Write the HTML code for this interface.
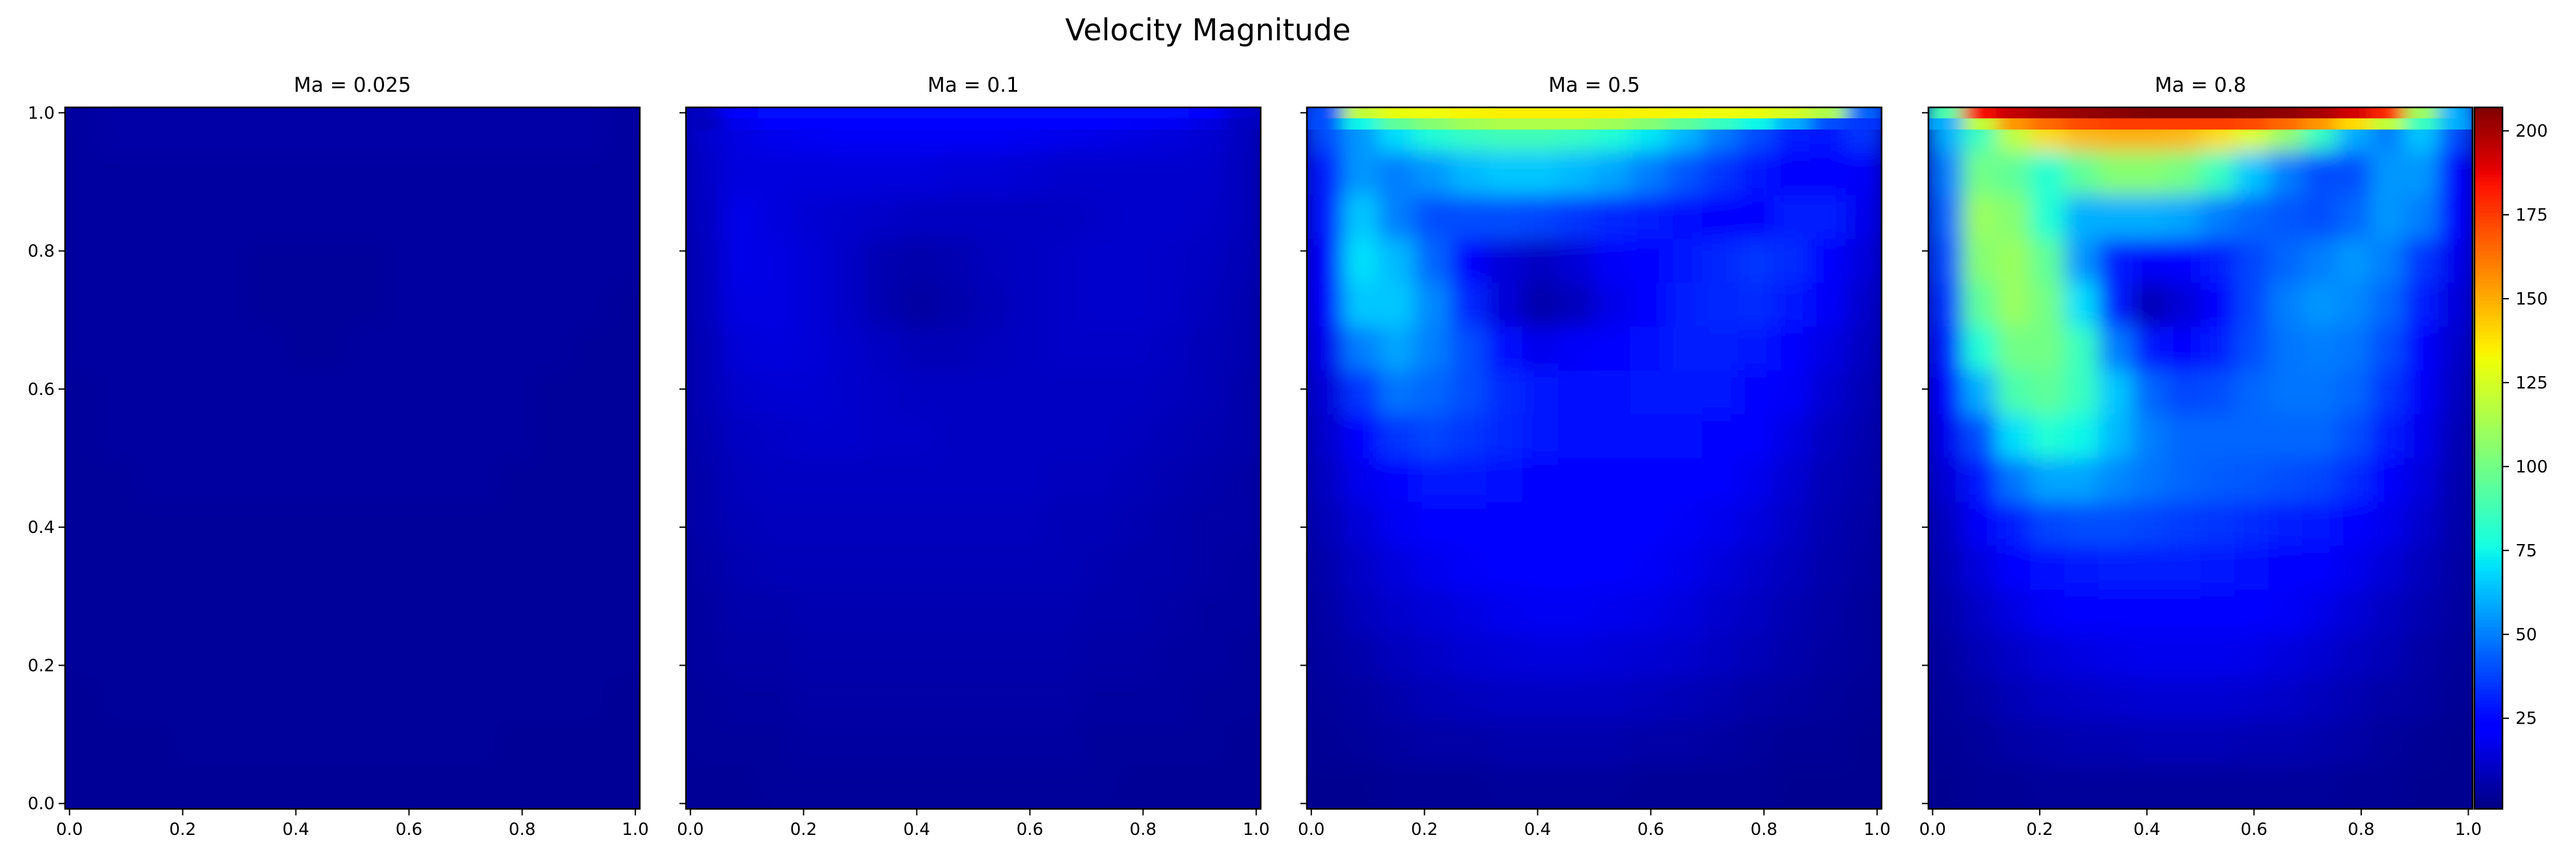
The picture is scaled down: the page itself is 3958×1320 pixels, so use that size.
<!DOCTYPE html>
<html><head><meta charset="utf-8"><style>
html,body{margin:0;padding:0;background:#fff;}
svg{display:block;font-family:"DejaVu Sans","Liberation Sans",sans-serif;}
</style></head><body>
<svg id="fig" width="3958" height="1320" viewBox="0 0 3958 1320" xmlns="http://www.w3.org/2000/svg">
<defs id="defs"></defs>
<rect width="3958" height="1320" fill="#fff"/>
<text x="1856" y="62" font-size="46" text-anchor="middle">Velocity Magnitude</text>
</svg>
<script>
const panelTitles = ["Ma = 0.025","Ma = 0.1","Ma = 0.5","Ma = 0.8"];
const xTicks = [0,0.2,0.4,0.6,0.8,1.0];
const xTickLabels = ["0.0","0.2","0.4","0.6","0.8","1.0"];
const yTicks = [0,0.2,0.4,0.6,0.8,1.0];
const yTickLabels = ["0.0","0.2","0.4","0.6","0.8","1.0"];
const cbarTicks = [25,50,75,100,125,150,175,200];
const vmin = -2, vmax = 207;

// body fields: 16x16, row 0 = top
const field1 = [
[4,5,5,5,5,5,5,5,5,5,5,5,5,5,5,4],
[4,4,4,4,4,4,4,4,4,4,4,4,4,4,4,4],
[4,4,4,4,4,4,4,4,4,4,4,4,4,4,4,4],
[4,4,4,4,4,3,3,3,3,4,4,4,4,4,4,4],
[4,4,4,4,4,3,3,3,3,4,4,4,4,4,4,3],
[4,4,4,4,4,4,3,3,4,4,4,4,4,4,3,3],
[3,4,4,4,4,4,4,4,4,4,4,4,4,3,3,3],
[3,4,4,4,4,4,4,4,4,4,4,4,4,3,3,3],
[3,3,4,4,4,4,4,4,4,4,4,4,3,3,3,3],
[3,3,3,3,3,3,3,3,3,3,3,3,3,3,3,3],
[3,3,3,3,3,3,3,3,3,3,3,3,3,3,3,3],
[3,3,3,3,3,3,3,3,3,3,3,3,3,3,3,3],
[3,3,3,3,3,3,3,3,3,3,3,3,3,3,3,3],
[2,3,3,3,3,3,3,3,3,3,3,3,3,3,3,2],
[2,2,2,3,3,3,3,3,3,3,3,3,2,2,2,2],
[2,2,2,2,2,2,2,2,2,2,2,2,2,2,2,2]];
const field2 = [
[12,16,18,19,20,20,20,20,20,19,18,17,16,15,13,10],
[11,15,15,15,15,15,15,14,14,13,12,12,12,12,12,9],
[10,17,15,13,12,11,10,10,10,10,10,11,12,12,11,9],
[9,17,16,14,11,7,6,7,9,10,11,12,12,11,10,8],
[9,16,16,14,11,7,4,6,8,10,11,12,12,11,9,7],
[8,14,15,14,12,10,8,8,9,10,11,11,11,10,8,7],
[8,12,13,13,12,11,10,10,10,10,10,10,10,9,8,6],
[7,10,11,12,12,11,11,10,10,10,10,10,9,8,7,6],
[6,9,10,10,10,10,10,10,10,10,9,9,8,7,6,5],
[6,8,9,9,9,9,9,9,9,9,8,8,7,6,5,5],
[5,7,8,8,8,8,8,8,8,8,8,7,6,6,5,4],
[4,6,6,7,7,7,7,7,7,7,7,6,6,5,4,4],
[4,5,5,6,6,6,6,6,6,6,6,5,5,4,4,3],
[3,4,4,5,5,5,5,5,5,5,5,4,4,4,3,3],
[3,3,3,4,4,4,4,4,4,4,4,3,3,3,3,2],
[2,2,3,3,3,3,3,3,3,3,3,3,2,2,2,2]];
const field3 = [
[40,55,70,80,85,88,88,85,80,72,62,50,40,30,28,35],
[30,55,50,55,62,65,65,62,58,50,42,35,28,24,25,20],
[28,65,50,40,40,40,38,35,32,30,27,25,25,30,30,18],
[25,70,62,45,25,14,10,14,20,25,28,32,35,33,25,15],
[22,65,65,52,32,14,6,9,17,25,30,32,33,28,20,12],
[18,50,58,50,40,26,18,20,23,27,30,30,28,24,16,10],
[14,35,48,45,40,33,28,26,27,28,28,28,25,20,13,8],
[12,25,35,38,35,32,28,26,26,26,26,25,22,16,10,7],
[10,18,25,28,28,27,25,24,24,24,23,21,18,13,8,6],
[8,14,19,22,23,23,23,23,23,22,20,18,15,11,7,5],
[6,11,15,18,20,21,22,22,21,20,18,15,12,9,6,4],
[5,9,12,14,16,18,19,19,18,17,15,12,10,7,5,3],
[4,6,9,11,13,14,15,15,14,13,12,10,8,6,4,3],
[3,4,6,8,9,10,10,10,10,9,8,7,5,4,3,2],
[2,3,4,5,5,6,6,6,6,5,5,4,3,2,2,1],
[1,1,2,2,2,3,3,3,3,2,2,2,2,1,1,1]];
const field4 = [
[60,85,120,140,148,150,150,148,140,128,110,85,60,50,65,40],
[50,100,95,80,95,105,105,100,85,65,50,40,40,55,55,25],
[45,110,105,80,60,60,60,58,50,45,42,40,45,55,50,22],
[40,105,110,95,55,30,20,25,30,38,45,50,55,50,35,18],
[35,95,110,100,70,30,8,14,25,38,50,55,52,45,30,15],
[30,80,100,100,85,50,28,25,30,40,48,50,48,40,25,12],
[22,60,90,95,85,65,45,38,40,45,48,48,45,35,20,10],
[18,40,70,80,75,62,50,45,45,45,45,45,40,30,18,8],
[14,28,48,58,58,52,48,45,43,42,40,38,33,25,15,7],
[10,20,30,38,40,40,38,36,35,33,30,28,24,18,12,6],
[8,15,22,27,29,30,30,30,28,27,25,22,18,14,9,5],
[6,11,16,20,22,23,23,23,23,22,20,17,14,10,7,4],
[4,8,11,14,16,17,18,18,18,17,15,13,10,8,5,3],
[3,5,8,10,11,12,13,13,13,12,11,9,7,5,4,2],
[2,3,5,6,7,7,8,8,8,7,7,6,5,3,2,1],
[1,2,2,3,3,3,3,3,3,3,3,3,2,2,1,1]];
// top two lid rows (each 1/64 of height), 16 columns
const lid1a = [4,5,5,5,5,5,5,5,5,5,5,5,5,5,5,4];
const lid1b = [4,5,5,5,5,5,5,5,5,5,5,5,5,5,5,4];
const lid2a = [10,24,26,26,26,26,26,26,26,26,26,26,26,26,24,12];
const lid2b = [9,18,22,23,23,23,23,23,23,23,22,21,20,19,16,10];
const lid3a = [40,120,130,132,134,135,135,135,135,134,133,132,130,125,115,45];
const lid3b = [40,75,95,105,112,115,115,115,112,105,95,85,75,60,40,35];
const lid4a = [90,185,195,200,203,205,207,207,207,206,204,200,192,180,110,60];
const lid4b = [60,120,155,165,172,175,175,175,175,172,165,155,140,120,85,60];

const fields = [field1,field2,field3,field4];
const lidsA = [lid1a,lid2a,lid3a,lid4a];
const lidsB = [lid1b,lid2b,lid3b,lid4b];

const panelLeft = [100,1054,2008,2963];
const panelWidth = [883,883,883,836];
const TOP = 165, H = 1078;
const CB_L = 3802, CB_W = 43;
const NS = "http://www.w3.org/2000/svg";
const svg = document.getElementById('fig');
const defs = document.getElementById('defs');

function interp(pts,t){for(let i=1;i<pts.length;i++){if(t<=pts[i][0]){const a=pts[i-1],b=pts[i];return a[1]+(b[1]-a[1])*(t-a[0])/(b[0]-a[0]);}}return pts[pts.length-1][1];}
function jet(v){let t=(v-vmin)/(vmax-vmin);t=Math.max(0,Math.min(1,t));
const r=interp([[0,0],[0.35,0],[0.66,1],[0.89,1],[1,0.5]],t);
const g=interp([[0,0],[0.125,0],[0.375,1],[0.64,1],[0.91,0],[1,0]],t);
const b=interp([[0,0.5],[0.11,1],[0.34,1],[0.65,0],[1,0]],t);
return `rgb(${Math.round(r*255)},${Math.round(g*255)},${Math.round(b*255)})`;}
function mk(tag,attrs){const e=document.createElementNS(NS,tag);for(const k in attrs)e.setAttribute(k,attrs[k]);return e;}
const pad = 1/128, span = 1+1/64;
function xScale(p,v){return panelLeft[p]+(v+pad)/span*panelWidth[p];}
function yScale(v){return TOP+H-(v+pad)/span*H;}

for(let p=0;p<4;p++){
  const L=panelLeft[p],W=panelWidth[p];
  const cp=mk('clipPath',{id:'clip'+p});
  cp.appendChild(mk('rect',{x:L,y:TOP,width:W,height:H}));
  defs.appendChild(cp);
  const flt=mk('filter',{id:'blur'+p,filterUnits:'userSpaceOnUse',x:L-60,y:TOP-60,width:W+120,height:H+120});
  flt.appendChild(mk('feGaussianBlur',{stdDeviation:16,edgeMode:'duplicate'}));
  defs.appendChild(flt);
  const hflt=mk('filter',{id:'hblur'+p,filterUnits:'userSpaceOnUse',x:L-60,y:TOP-10,width:W+120,height:60});
  hflt.appendChild(mk('feGaussianBlur',{stdDeviation:'14 0',edgeMode:'duplicate'}));
  defs.appendChild(hflt);

  const g=mk('g',{});
  
  
  svg.appendChild(g);
  const clipG=mk('g',{'clip-path':'url(#clip'+p+')'});
  g.appendChild(clipG);
  const f=fields[p];const nr=f.length,nc=f[0].length;
  const bg=mk('rect',{x:L,y:TOP,width:W,height:H,fill:jet(f[nr-1][0])});
  clipG.appendChild(bg);
  const body=mk('g',{filter:'url(#blur'+p+')'});
  clipG.appendChild(body);
  for(let r=0;r<nr;r++)for(let c=0;c<nc;c++){
    const x0=L+c*W/nc,y0=TOP+r*H/nr;
    const cell=mk('rect',{x:x0.toFixed(2),y:y0.toFixed(2),width:(W/nc+0.6).toFixed(2),height:(H/nr+0.6).toFixed(2),fill:jet(f[r][c])});
    
    
    body.appendChild(cell);
  }
  const lidG=mk('g',{filter:'url(#hblur'+p+')'});
  clipG.appendChild(lidG);
  [lidsA[p],lidsB[p]].forEach((row,ri)=>{
    for(let c=0;c<row.length;c++){
      const cell=mk('rect',{x:(L+c*W/row.length).toFixed(2),y:(TOP+ri*H/64).toFixed(2),width:(W/row.length+0.6).toFixed(2),height:(H/64+0.4).toFixed(2),fill:jet(row[c])});
      
      
      lidG.appendChild(cell);
    }
  });
  const frame=mk('rect',{x:L,y:TOP,width:W,height:H,fill:'none',stroke:'#000','stroke-width':2.5});
  
  
  g.appendChild(frame);
  const tt=mk('text',{x:L+W/2,y:141,'font-size':31,'text-anchor':'middle'});
  tt.textContent=panelTitles[p];
  
  
  g.appendChild(tt);
  xTicks.forEach((v,i)=>{
    const x=xScale(p,v);
    const tk=mk('line',{x1:x,x2:x,y1:TOP+H,y2:TOP+H+10,stroke:'#000','stroke-width':2});
    
    
    g.appendChild(tk);
    const lb=mk('text',{x:x,y:TOP+H+40,'font-size':26,'text-anchor':'middle'});
    lb.textContent=xTickLabels[i];
    
    
    g.appendChild(lb);
  });
  yTicks.forEach((v,i)=>{
    const y=yScale(v);
    const tk=mk('line',{x1:L-10,x2:L,y1:y,y2:y,stroke:'#000','stroke-width':2});
    
    
    g.appendChild(tk);
    if(p===0){
      const lb=mk('text',{x:L-16,y:y+9,'font-size':26,'text-anchor':'end'});
      lb.textContent=yTickLabels[i];
      
      
      g.appendChild(lb);
    }
  });
}

// colorbar
const cb=mk('g',{});


svg.appendChild(cb);
const NSEG=200;
for(let i=0;i<NSEG;i++){
  const v=vmin+(i+0.5)/NSEG*(vmax-vmin);
  const seg=mk('rect',{x:CB_L,y:(TOP+H-(i+1)*H/NSEG).toFixed(2),width:CB_W,height:(H/NSEG+0.6).toFixed(2),fill:jet(v)});
  
  
  cb.appendChild(seg);
}
const cbf=mk('rect',{x:CB_L,y:TOP,width:CB_W,height:H,fill:'none',stroke:'#000','stroke-width':2.5});


cb.appendChild(cbf);
cbarTicks.forEach(v=>{
  const y=TOP+H-(v-vmin)/(vmax-vmin)*H;
  const tk=mk('line',{x1:CB_L+CB_W,x2:CB_L+CB_W+10,y1:y,y2:y,stroke:'#000','stroke-width':2});
  
  
  cb.appendChild(tk);
  const lb=mk('text',{x:CB_L+CB_W+20,y:y+9,'font-size':26});
  lb.textContent=String(v);
  
  
  cb.appendChild(lb);
});
</script>
</body></html>
